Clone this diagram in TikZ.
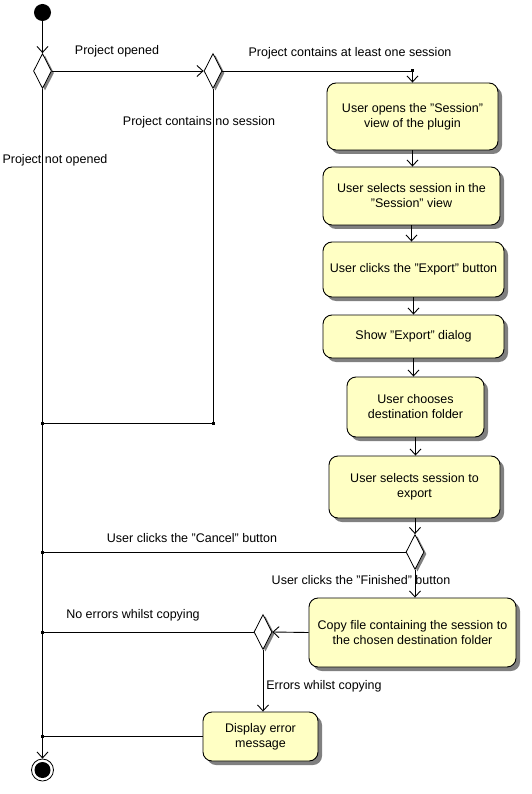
\documentclass[tikz,border=0pt]{standalone}
\usepackage{fontspec}
\setmainfont{Liberation Sans}
\usetikzlibrary{arrows.meta,shapes.geometric,shadows,calc}
\definecolor{boxfill}{RGB}{255,255,196}
\definecolor{shadowgray}{RGB}{128,128,128}
\tikzset{
  every node/.style={font=\fontsize{12.5}{15}\selectfont},
  act/.style={draw, line width=0.9pt, fill=boxfill, rounded corners=9pt, align=center, inner sep=0pt,
    drop shadow={shadow xshift=4pt, shadow yshift=-4pt, fill=shadowgray, opacity=1}},
  dec/.style={diamond, draw, fill=white, inner sep=0pt, minimum width=18pt, minimum height=35pt, line width=0.8pt,
    drop shadow={shadow xshift=2.5pt, shadow yshift=-2pt, fill=shadowgray, opacity=1}},
  flow/.style={line width=0.9pt, -{Straight Barb[length=6pt,width=11pt]}},
  link/.style={line width=0.9pt},
  junc/.style={rectangle, fill, inner sep=0pt, minimum size=3pt},
  lbl/.style={inner sep=0pt},
}
\begin{document}
\begin{tikzpicture}[x=1pt,y=-1pt]
\useasboundingbox[fill=white] (0,0) rectangle (531,794);
% start / end
\node[circle, fill, inner sep=0pt, minimum size=17pt] (start) at (42.5,12.5) {};
\node[circle, draw, fill=white, inner sep=0pt, minimum size=22pt, line width=0.8pt] (end) at (42.5,770) {};
\node[circle, fill, inner sep=0pt, minimum size=16pt] (endin) at (end.center) {};
% decisions
\node[dec] (d1) at (42.5,71) {};
\node[dec] (d2) at (213,71) {};
\node[dec] (d3) at (415,552) {};
\node[dec] (d4) at (263,632) {};
% activities
\node[act, minimum width=171pt, minimum height=67pt] (b1) at (412.5,116.5) {User opens the "Session"\\view of the plugin};
\node[act, minimum width=177pt, minimum height=58pt] (b2) at (411.5,196) {User selects session in the\\"Session" view};
\node[act, minimum width=181pt, minimum height=55pt] (b3) at (413.5,269.5) {User clicks the "Export" button};
\node[act, minimum width=181pt, minimum height=43pt] (b4) at (413.5,336.5) {Show "Export" dialog};
\node[act, minimum width=137pt, minimum height=60pt] (b5) at (415.5,407) {User chooses\\destination folder};
\node[act, minimum width=171pt, minimum height=62pt] (b6) at (414.5,487) {User selects session to\\export};
\node[act, minimum width=207pt, minimum height=69pt] (b7) at (412.5,632.5) {Copy file containing the session to\\the chosen destination folder};
\node[act, minimum width=115pt, minimum height=49pt] (b8) at (260.5,736.5) {Display error\\message};
% junctions
\node[junc] (jtop) at (b1.north |- d2.east) {};
\node[junc] (jns) at (d2.south |- 0,423) {};
\node[junc] (jm1) at (d1.south |- jns) {};
\node[junc] (jm2) at (d1.south |- d3.west) {};
\node[junc] (jm3) at (d1.south |- d4.west) {};
\node[junc] (jm4) at (d1.south |- b8.west) {};
% connectors
\draw[flow] (start) -- (d1.north);
\draw[flow] (d1.east) -- (d2.west);
\draw[link] (d2.east) -- (jtop.center);
\draw[flow] (jtop.center) -- (b1.north);
\draw[link] (d2.south) -- (jns.center) -- (jm1.center);
\draw[flow] (d1.south) -- (end.north);
\draw[flow] (b1.south) -- (b1.south |- b2.north);
\draw[flow] (b2.south) -- (b2.south |- b3.north);
\draw[flow] (b3.south) -- (b3.south |- b4.north);
\draw[flow] (b4.south) -- (b4.south |- b5.north);
\draw[flow] (b5.south) -- (b5.south |- b6.north);
\draw[flow] (d3.north |- b6.south) -- (d3.north);
\draw[link] (d3.west) -- (jm2.center);
\draw[flow] (d3.south) -- (d3.south |- b7.north);
\draw[flow] (b7.west) -- (d4.east);
\draw[link] (d4.west) -- (jm3.center);
\draw[flow] (d4.south) -- (d4.south |- b8.north);
\draw[link] (b8.west) -- (jm4.center);
% labels
\node[lbl] (l1) at (117,51.5) {Project opened};
\node[lbl] (l2) at (350,53.5) {Project contains at least one session};
\node[lbl] (l3) at (199,122.5) {Project contains no session};
\node[lbl] (l4) at (55,160.5) {Project not opened};
\node[lbl] (l5) at (192,538.5) {User clicks the "Cancel" button};
\node[lbl] (l6) at (361,580.5) {User clicks the "Finished" button};
\node[lbl] (l7) at (133,615.5) {No errors whilst copying};
\node[lbl] (l8) at (324,686.5) {Errors whilst copying};
\end{tikzpicture}
\end{document}
